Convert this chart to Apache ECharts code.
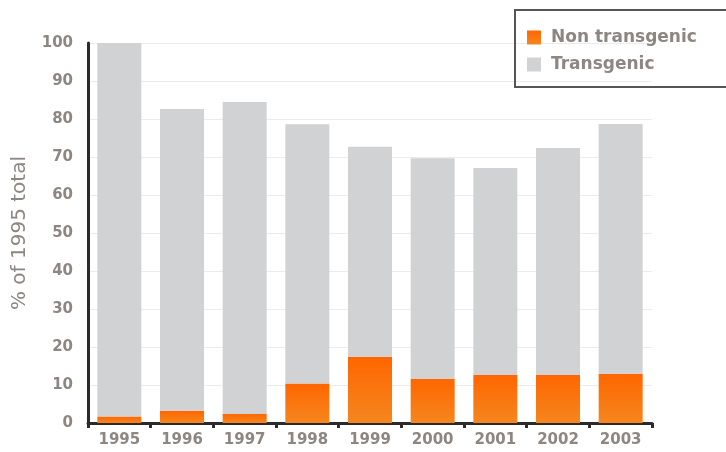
<!DOCTYPE html>
<html>
<head>
<meta charset="utf-8">
<script src="https://cdn.jsdelivr.net/npm/echarts@6/dist/echarts.min.js"></script>
<style>
  html, body { margin: 0; padding: 0; background: #fff; }
  #chart { width: 726px; height: 452px; }
</style>
</head>
<body>
<div id="chart"></div>
<script>
// data
var years = ['1995', '1996', '1997', '1998', '1999', '2000', '2001', '2002', '2003'];
var nonTransgenic = [1.7, 3.2, 2.4, 10.4, 17.4, 11.6, 12.6, 12.6, 12.9];
var transgenic = [98.3, 79.4, 82.1, 68.2, 55.3, 58.1, 54.5, 59.8, 65.8];

var textGrey = '#8d8681';
var font = 'DejaVu Sans';

var chart = echarts.init(document.getElementById('chart'));
var option = {
    animation: false,
    grid: { left: 88, right: 74, top: 43, bottom: 29 },
    legend: {
        left: 515,
        top: 10,
        orient: 'vertical',
        itemWidth: 14,
        itemHeight: 14,
        itemGap: 10,
        padding: [19, 60, 14, 12],
        borderWidth: 2,
        borderColor: '#555',
        icon: 'rect',
        textStyle: { fontSize: 17, fontWeight: 'bold', color: textGrey, fontFamily: font, padding: [0, 0, 0, 5] },
        data: ['Non transgenic', 'Transgenic']
    },
    xAxis: {
        type: 'category',
        data: years,
        axisLine: { lineStyle: { color: '#2b2b2b', width: 3 } },
        axisTick: { show: true, length: 5, lineStyle: { color: '#2b2b2b', width: 3 } },
        axisLabel: { fontSize: 15, fontWeight: 'bold', color: textGrey, margin: 10, fontFamily: font }
    },
    yAxis: {
        type: 'value',
        min: 0,
        max: 100,
        interval: 10,
        name: '% of 1995 total',
        nameLocation: 'middle',
        nameGap: 58,
        nameTextStyle: { fontSize: 20, color: textGrey, fontFamily: font },
        axisLine: { show: true, lineStyle: { color: '#2b2b2b', width: 3 } },
        axisTick: { show: false },
        axisLabel: { fontSize: 15, fontWeight: 'bold', color: textGrey, margin: 15, fontFamily: font },
        splitLine: { lineStyle: { color: '#ebebeb', width: 1 } }
    },
    series: [
        {
            name: 'Non transgenic',
            type: 'bar',
            stack: 'total',
            barWidth: 44,
            itemStyle: {
                color: new echarts.graphic.LinearGradient(0, 0, 0, 1, [
                    { offset: 0, color: '#ff6600' },
                    { offset: 1, color: '#f5861f' }
                ])
            },
            data: nonTransgenic
        },
        {
            name: 'Transgenic',
            type: 'bar',
            stack: 'total',
            barWidth: 44,
            itemStyle: { color: '#d1d2d4' },
            data: transgenic
        }
    ]
};
chart.setOption(option);
</script>
</body>
</html>
